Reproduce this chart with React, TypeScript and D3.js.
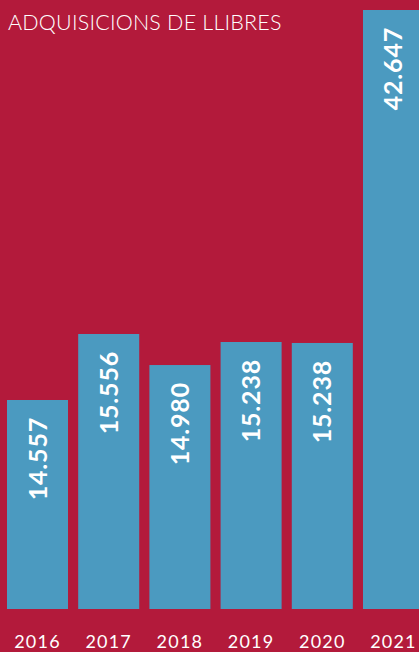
import React from "react";
import * as d3 from "d3";

const years = ["2016", "2017", "2018", "2019", "2020", "2021"];
// bar lengths as drawn in the picture (thousands)
const barValues = [14.88, 19.58, 17.37, 19.01, 18.94, 42.647];
const valueLabels = ["14.557", "15.556", "14.980", "15.238", "15.238", "42.647"];
const title = "ADQUISICIONS DE LLIBRES";

const W = 419;
const H = 652;
const BG = "#B31A3B";
const BAR = "#4B9AC0";

export default function App() {
  const x = d3.scaleBand<string>().domain(years).range([7, 424]).paddingInner(0.143).paddingOuter(0);
  const y = d3.scaleLinear().domain([0, d3.max(barValues) as number]).range([609, 10]);
  return (
    <div style={{ position: "fixed", left: 0, top: 0 }}>
      <svg width={W} height={H} style={{ display: "block" }}>
        <rect x={0} y={0} width={W} height={H} fill={BG} />
        <text x={8} y={30} fill="#fff" fontFamily="Lato" fontWeight={300} fontSize={21.5} letterSpacing={0.2}>
          {title}
        </text>
        {years.map((yr, i) => {
          const bx = x(yr) as number;
          const bw = x.bandwidth();
          const top = y(barValues[i]);
          const cx = bx + bw / 2;
          return (
            <g key={yr}>
              <rect x={bx} y={top} width={bw} height={y(0) - top} fill={BAR} />
              <text
                transform={`translate(${cx + 9},${top + 17}) rotate(-90)`}
                textAnchor="end"
                fill="#fff"
                fontFamily="Lato"
                fontWeight={700}
                fontSize={25}
                letterSpacing={0.8}
              >
                {valueLabels[i]}
              </text>
              <text x={cx} y={648} textAnchor="middle" fill="#fff" fontFamily="Lato" fontSize={18} letterSpacing={1.2}>
                {yr}
              </text>
            </g>
          );
        })}
      </svg>
    </div>
  );
}
